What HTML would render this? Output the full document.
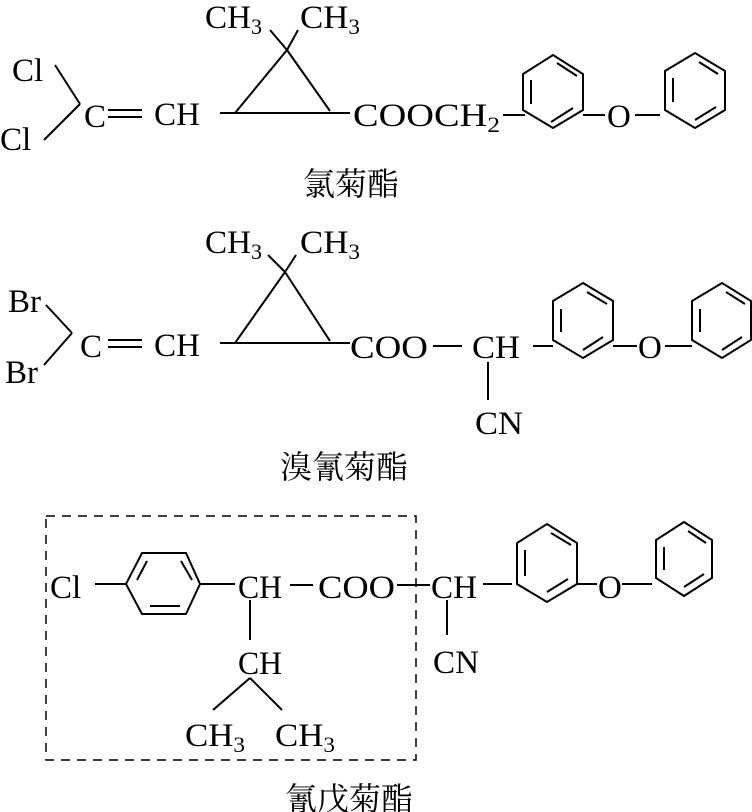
<!DOCTYPE html>
<html><head><meta charset="utf-8"><style>
html,body{margin:0;padding:0;background:#fff;}
svg{display:block;}
text{font-family:"Liberation Serif","Noto Serif CJK SC",serif;font-size:33px;fill:#000;}
.cj{font-family:"Liberation Serif","Noto Serif CJK SC","Noto Sans CJK SC",serif;font-size:32px;}
.s{font-size:22px;}
</style></head><body>
<svg width="752" height="812" viewBox="0 0 752 812" xmlns="http://www.w3.org/2000/svg">
<g stroke="#000" stroke-width="2" fill="none">
<!-- Structure 1 -->
<line x1="55" y1="65" x2="80" y2="104"/><line x1="80" y1="104" x2="44" y2="140"/>
<line x1="108" y1="110" x2="142" y2="110"/><line x1="108" y1="117" x2="142" y2="117"/>
<line x1="220" y1="113" x2="350" y2="113"/>
<line x1="235" y1="113" x2="287" y2="50"/><line x1="330" y1="111" x2="287" y2="50"/>
<line x1="270" y1="30" x2="287" y2="50"/><line x1="287" y1="50" x2="298" y2="30"/>
<line x1="503" y1="115" x2="525" y2="115"/>
<polygon points="553,55 583,74 583,110 553,128 523,110 523,74"/>
<line x1="531" y1="80" x2="531" y2="104"/><line x1="551" y1="122" x2="573" y2="108"/><line x1="557" y1="63" x2="577" y2="76"/>
<line x1="583" y1="115" x2="605" y2="115"/><line x1="635" y1="115" x2="660" y2="115"/>
<polygon points="695,53 725,71 725,110 695,128 665,110 665,71"/>
<line x1="673" y1="78" x2="673" y2="102"/><line x1="695" y1="120" x2="716" y2="107"/><line x1="699" y1="62" x2="718" y2="74"/>
<!-- Structure 2 -->
<line x1="46" y1="305" x2="72" y2="333"/><line x1="72" y1="333" x2="44" y2="365"/>
<line x1="108" y1="340" x2="142" y2="340"/><line x1="108" y1="347" x2="142" y2="347"/>
<line x1="220" y1="343" x2="350" y2="343"/>
<line x1="235" y1="343" x2="285" y2="272"/><line x1="330" y1="341" x2="285" y2="272"/>
<line x1="268" y1="255" x2="285" y2="272"/><line x1="285" y1="272" x2="296" y2="255"/>
<line x1="433" y1="346" x2="462" y2="346"/>
<line x1="488" y1="362" x2="488" y2="400"/>
<line x1="533" y1="346" x2="553" y2="346"/>
<polygon points="583,283 613,301 613,340 583,358 553,340 553,301"/>
<line x1="561" y1="309" x2="561" y2="332"/><line x1="583" y1="350" x2="603" y2="337"/><line x1="587" y1="292" x2="607" y2="304"/>
<line x1="613" y1="346" x2="637" y2="346"/><line x1="665" y1="346" x2="692" y2="346"/>
<polygon points="722,283 751,301 751,340 722,358 692,340 692,301"/>
<line x1="700" y1="309" x2="700" y2="332"/><line x1="722" y1="350" x2="742" y2="337"/><line x1="726" y1="292" x2="745" y2="304"/>
<!-- Structure 3 -->
<rect x="46" y="516" width="370" height="244" stroke-width="1.5" stroke-dasharray="9,7"/>
<line x1="95" y1="584" x2="126" y2="584"/>
<polygon points="126,584 142,553 186,553 200,584 186,614 142,614"/>
<line x1="137" y1="580" x2="147" y2="561"/><line x1="150" y1="606" x2="180" y2="606"/><line x1="181" y1="561" x2="192" y2="580"/>
<line x1="200" y1="584" x2="235" y2="584"/>
<line x1="290" y1="585" x2="313" y2="585"/>
<line x1="397" y1="585" x2="430" y2="585"/>
<line x1="250" y1="600" x2="250" y2="640"/>
<line x1="250" y1="678" x2="213" y2="710"/><line x1="250" y1="678" x2="282" y2="710"/>
<line x1="447" y1="600" x2="447" y2="635"/>
<line x1="483" y1="584" x2="512" y2="584"/>
<polygon points="547,524 577,543 577,584 547,602 517,584 517,543"/>
<line x1="525" y1="550" x2="525" y2="576"/><line x1="547" y1="592" x2="568" y2="579"/><line x1="551" y1="533" x2="571" y2="545"/>
<line x1="577" y1="584" x2="597" y2="584"/><line x1="622" y1="584" x2="652" y2="584"/>
<polygon points="684,522 712,540 712,578 684,596 656,578 656,540"/>
<line x1="664" y1="547" x2="664" y2="570"/><line x1="684" y1="587" x2="704" y2="574"/><line x1="688" y1="531" x2="706" y2="543"/>
</g>
<!-- Text 1 -->
<text x="205" y="28" textLength="57" lengthAdjust="spacingAndGlyphs">CH<tspan class="s" dy="6">3</tspan></text>
<text x="300" y="28" textLength="60" lengthAdjust="spacingAndGlyphs">CH<tspan class="s" dy="6">3</tspan></text>
<text x="12" y="81">Cl</text>
<text x="0" y="150">Cl</text>
<text x="84" y="127">C</text>
<text x="154" y="125" textLength="46" lengthAdjust="spacingAndGlyphs">CH</text>
<text x="353" y="126" textLength="147" lengthAdjust="spacingAndGlyphs">COOCH<tspan class="s" dy="6">2</tspan></text>
<text x="607" y="127">O</text>
<text class="cj" x="303" y="195">氯菊酯</text>
<!-- Text 2 -->
<text x="205" y="253" textLength="57" lengthAdjust="spacingAndGlyphs">CH<tspan class="s" dy="6">3</tspan></text>
<text x="300" y="253" textLength="60" lengthAdjust="spacingAndGlyphs">CH<tspan class="s" dy="6">3</tspan></text>
<text x="8" y="312">Br</text>
<text x="5" y="383">Br</text>
<text x="80" y="357">C</text>
<text x="154" y="356" textLength="46" lengthAdjust="spacingAndGlyphs">CH</text>
<text x="350" y="358" textLength="78" lengthAdjust="spacingAndGlyphs">COO</text>
<text x="472" y="358" textLength="48" lengthAdjust="spacingAndGlyphs">CH</text>
<text x="475" y="434" textLength="48" lengthAdjust="spacingAndGlyphs">CN</text>
<text x="638" y="358">O</text>
<text class="cj" x="280" y="478">溴氰菊酯</text>
<!-- Text 3 -->
<text x="50" y="598">Cl</text>
<text x="238" y="598" textLength="44" lengthAdjust="spacingAndGlyphs">CH</text>
<text x="318" y="598" textLength="77" lengthAdjust="spacingAndGlyphs">COO</text>
<text x="431" y="598" textLength="46" lengthAdjust="spacingAndGlyphs">CH</text>
<text x="238" y="674" textLength="44" lengthAdjust="spacingAndGlyphs">CH</text>
<text x="433" y="673" textLength="46" lengthAdjust="spacingAndGlyphs">CN</text>
<text x="598" y="598">O</text>
<text x="185" y="746" textLength="60" lengthAdjust="spacingAndGlyphs">CH<tspan class="s" dy="6">3</tspan></text>
<text x="275" y="746" textLength="60" lengthAdjust="spacingAndGlyphs">CH<tspan class="s" dy="6">3</tspan></text>
<text class="cj" x="285" y="810">氰戊菊酯</text>
</svg>
</body></html>
